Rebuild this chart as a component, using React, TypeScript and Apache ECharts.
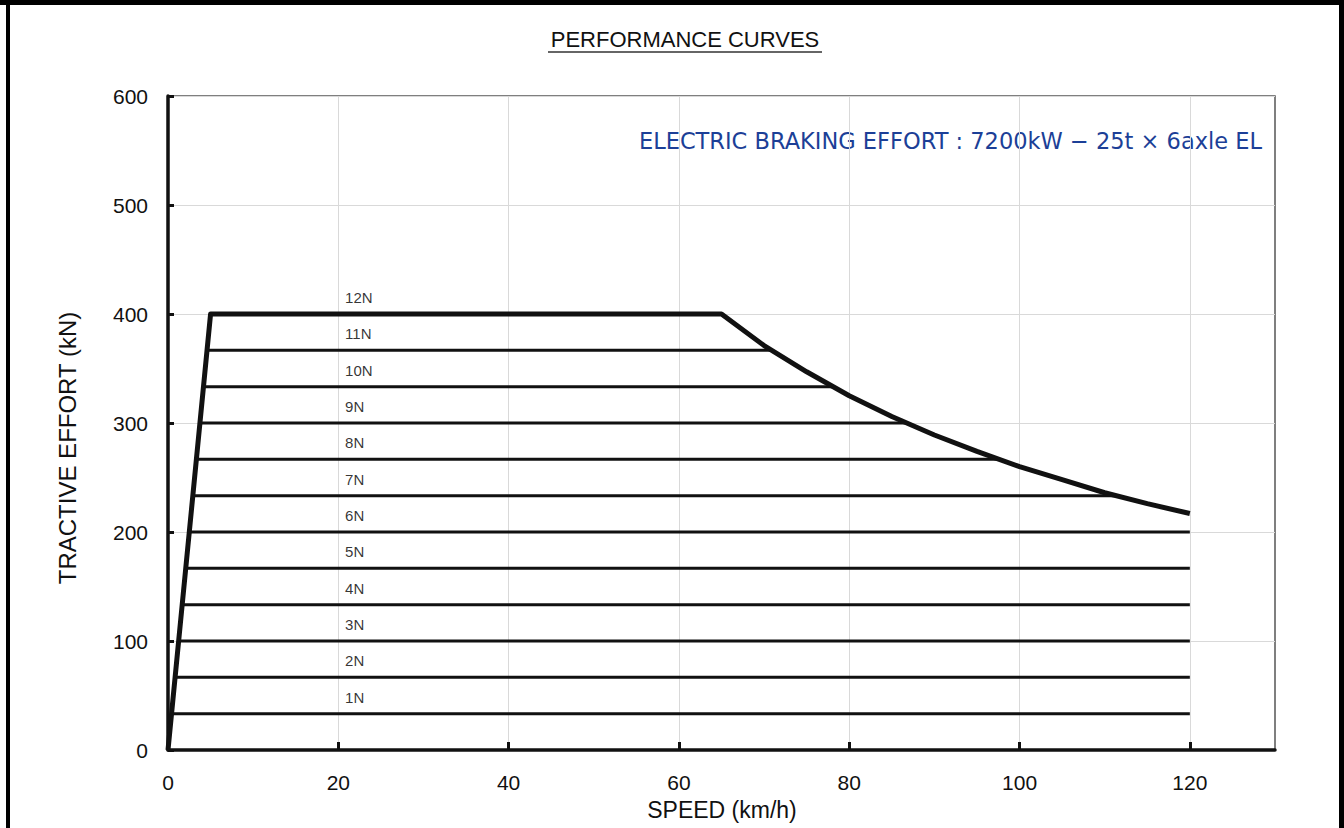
import React, { useEffect, useRef } from "react";
import * as echarts from "echarts";

// Envelope (12N) curve: speed km/h, effort kN
const envelopeSpeed = [0, 5, 65, 70, 75, 80, 85, 90, 95, 100, 105, 110, 115, 120];
const envelopeEffort = [0, 400, 400, 371, 347, 325, 306, 289, 274, 260, 248, 236, 226, 217];

// Notch lines 1N..11N
const notchNames = ["1N", "2N", "3N", "4N", "5N", "6N", "7N", "8N", "9N", "10N", "11N"];
const notchEffort = [33.3, 66.7, 100, 133.3, 166.7, 200, 233.3, 266.7, 300, 333.3, 366.7];
const notchStart = [0.42, 0.83, 1.25, 1.67, 2.08, 2.5, 2.92, 3.33, 3.75, 4.17, 4.58];
const notchEnd = [120, 120, 120, 120, 120, 120, 111.4, 97.5, 86.7, 78, 70.9];

// Notch labels 1N..12N
const labelNames = ["1N", "2N", "3N", "4N", "5N", "6N", "7N", "8N", "9N", "10N", "11N", "12N"];
const labelEffort = [33.3, 66.7, 100, 133.3, 166.7, 200, 233.3, 266.7, 300, 333.3, 366.7, 400];
const labelSpeed = 20.8;

const xLabelValues = [0, 20, 40, 60, 80, 100, 120];
const xTickValues = [20, 40, 60, 80, 100, 120];

const FONT = "'Liberation Sans', Arial, Helvetica, sans-serif";
const WIDE = "'DejaVu Sans', 'Liberation Sans', sans-serif";

export default function App() {
  const ref = useRef<HTMLDivElement>(null);
  useEffect(() => {
    document.body.style.margin = "0";
    if (!ref.current) return;
    const chart = echarts.init(ref.current, undefined, { renderer: "svg" });

    const series: any[] = [];
    notchEffort.forEach((e, i) => {
      series.push({
        type: "line",
        name: notchNames[i],
        data: [
          [notchStart[i], e],
          [notchEnd[i], e],
        ],
        symbol: "none",
        lineStyle: { color: "#111", width: 3 },
        z: 3,
      });
    });
    series.push({
      type: "line",
      name: "12N",
      data: envelopeSpeed.map((s, i) => [s, envelopeEffort[i]]),
      symbol: "none",
      lineStyle: { color: "#111", width: 5, join: "round" },
      z: 4,
    });
    series.push({
      type: "scatter",
      data: labelEffort.map((e, i) => ({ value: [labelSpeed, e], name: labelNames[i] })),
      symbolSize: 0,
      silent: true,
      label: {
        show: true,
        position: "top",
        align: "left",
        distance: 9,
        formatter: (p: any) => p.name,
        color: "#000",
        fontSize: 15,
        fontFamily: FONT,
      },
      z: 5,
    });

    chart.setOption({
      animation: false,
      backgroundColor: "#fff",
      grid: {
        left: 168,
        top: 96,
        width: 1107,
        height: 654,
        show: true,
        borderColor: "#555",
        borderWidth: 1.5,
        backgroundColor: "transparent",
      },
      xAxis: {
        type: "value",
        min: 0,
        max: 130,
        interval: 10,
        axisLine: { show: true, onZero: false, lineStyle: { color: "#111", width: 3.5 } },
        axisTick: {
          show: true,
          inside: true,
          length: 8,
          customValues: xTickValues,
          lineStyle: { color: "#111", width: 3 },
        },
        axisLabel: {
          customValues: xLabelValues,
          margin: 22,
          color: "#111",
          fontSize: 21,
          fontFamily: FONT,
        },
        splitLine: { show: true, lineStyle: { color: "#d9d9d9", width: 1 } },
      },
      yAxis: {
        type: "value",
        min: 0,
        max: 600,
        interval: 100,
        axisLine: { show: true, onZero: false, lineStyle: { color: "#111", width: 3.5 } },
        axisTick: { show: true, inside: true, length: 6, lineStyle: { color: "#111", width: 3 } },
        axisLabel: { margin: 20, color: "#111", fontSize: 21, fontFamily: FONT },
        splitLine: { show: true, lineStyle: { color: "#d9d9d9", width: 1 } },
      },
      graphic: [
        { type: "rect", shape: { x: 0, y: 0, width: 1344, height: 5 }, style: { fill: "#000" } },
        { type: "rect", shape: { x: 6, y: 0, width: 4, height: 828 }, style: { fill: "#000" } },
        { type: "rect", shape: { x: 1339, y: 0, width: 5, height: 828 }, style: { fill: "#000" } },
        {
          type: "text",
          x: 685,
          y: 39,
          style: {
            text: "PERFORMANCE CURVES",
            fill: "#111",
            font: `22px ${FONT}`,
            textAlign: "center",
            textVerticalAlign: "middle",
          },
        },
        { type: "line", shape: { x1: 548, y1: 52, x2: 822, y2: 52 }, style: { stroke: "#333", lineWidth: 1.5 } },
        {
          type: "text",
          x: 1262,
          y: 141,
          style: {
            text: "ELECTRIC BRAKING EFFORT : 7200kW − 25t × 6axle EL",
            fill: "#1c3f97",
            font: `22.5px ${WIDE}`,
            textAlign: "right",
            textVerticalAlign: "middle",
          },
        },
        {
          type: "text",
          x: 67,
          y: 448,
          rotation: Math.PI / 2,
          style: {
            text: "TRACTIVE EFFORT (kN)",
            fill: "#111",
            font: `24px ${FONT}`,
            textAlign: "center",
            textVerticalAlign: "middle",
          },
        },
        {
          type: "text",
          x: 722,
          y: 810,
          style: {
            text: "SPEED (km/h)",
            fill: "#111",
            font: `23px ${FONT}`,
            textAlign: "center",
            textVerticalAlign: "middle",
          },
        },
      ],
      series,
    });
    return () => chart.dispose();
  }, []);
  return <div ref={ref} style={{ width: 1344, height: 828 }} />;
}
